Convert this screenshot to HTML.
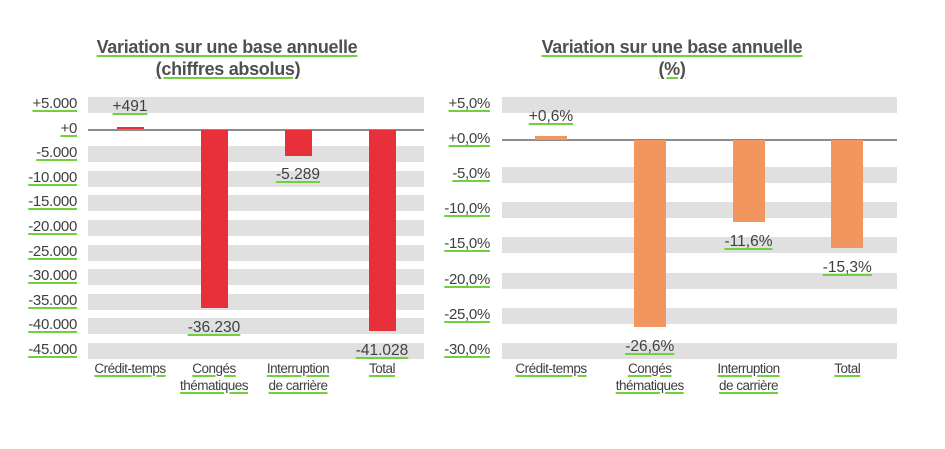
<!DOCTYPE html>
<html><head><meta charset="utf-8"><style>
body{margin:0;background:#fff;width:945px;height:449px;overflow:hidden;position:relative;font-family:"Liberation Sans",sans-serif;color:#404040}
.a{position:absolute;white-space:nowrap;text-decoration:underline #6fd13f;text-decoration-color:#6fd13f;text-underline-offset:2px;text-decoration-thickness:2px}
.t{font-weight:bold;font-size:18px;color:#505050;text-align:center;width:400px;line-height:22px;letter-spacing:-0.3px}
.n{font-size:15px;line-height:16px;letter-spacing:-0.3px}
.r{position:absolute}
</style></head><body>
<div class="a t" style="left:27px;top:36px">Variation sur une base annuelle</div>
<div class="a t" style="left:28px;top:58px">(chiffres absolus)</div>
<div class="a t" style="left:472px;top:36px">Variation sur une base annuelle</div>
<div class="a t" style="left:472px;top:58px">(%)</div>
<div id="c"></div>
<script>
var h='';
function el(s){h+=s;}
var L={zero:129.5,k:24.6/5000};
var ticksL=['+5.000','+0','-5.000','-10.000','-15.000','-20.000','-25.000','-30.000','-35.000','-40.000','-45.000'];
for(var i=0;i<11;i++){var v=5000-5000*i;var y=L.zero-v*L.k;
 if(v!=0) el('<div class="r" style="left:88px;top:'+(y-8)+'px;width:336px;height:16px;background:#e0e0e0"></div>');
 el('<div class="a n" style="right:'+(945-77)+'px;top:'+(y-9)+'px">'+ticksL[i]+'</div>');}
el('<div class="r" style="left:88px;top:'+(L.zero-1)+'px;width:336px;height:2px;background:#8c8c8c"></div>');
var dl=[491,-36230,-5289,-41028],lbl=['+491','-36.230','-5.289','-41.028'],ly=[107,328,175,351];
var cats=['Crédit-temps','Congés<br>thématiques','Interruption<br>de carrière','Total'];
for(var i=0;i<4;i++){var c=130+84*i;var y1=L.zero,y2=L.zero-dl[i]*L.k;var t=Math.min(y1,y2),b=Math.max(y1,y2);
 el('<div class="r" style="left:'+(c-13.5)+'px;top:'+t+'px;width:27px;height:'+Math.max(b-t,2)+'px;background:#e8303a"></div>');
 el('<div class="a" style="font-size:15.5px;left:'+(c-50)+'px;width:100px;text-align:center;top:'+(ly[i]-9)+'px">'+lbl[i]+'</div>');
 el('<div class="a" style="font-size:13.5px;line-height:17px;left:'+(c-50)+'px;width:100px;text-align:center;top:360px;letter-spacing:-0.5px">'+cats[i]+'</div>');}
var R={zero:140,k:35.15/5};
for(var i=0;i<8;i++){var v=5-5*i;var y=R.zero-v*R.k;
 if(v!=0) el('<div class="r" style="left:502px;top:'+(y-8)+'px;width:395px;height:16px;background:#e0e0e0"></div>');
 var s=(v>=0?'+':'')+v+',0%';
 el('<div class="a n" style="right:'+(945-490)+'px;top:'+(y-9)+'px">'+s+'</div>');}
el('<div class="r" style="left:502px;top:'+(R.zero-1)+'px;width:395px;height:2px;background:#8c8c8c"></div>');
var dr=[0.6,-26.6,-11.6,-15.3],lr=['+0,6%','-26,6%','-11,6%','-15,3%'],ry=[117,347,242,268];
for(var i=0;i<4;i++){var c=551+98.75*i;var y1=R.zero,y2=R.zero-dr[i]*R.k;var t=Math.min(y1,y2),b=Math.max(y1,y2);
 el('<div class="r" style="left:'+(c-16)+'px;top:'+t+'px;width:32px;height:'+Math.max(b-t,2)+'px;background:#f0965e"></div>');
 el('<div class="a" style="font-size:15.5px;left:'+(c-50)+'px;width:100px;text-align:center;top:'+(ry[i]-9)+'px">'+lr[i]+'</div>');
 el('<div class="a" style="font-size:13.5px;line-height:17px;left:'+(c-50)+'px;width:100px;text-align:center;top:360px;letter-spacing:-0.5px">'+cats[i]+'</div>');}
document.getElementById('c').innerHTML=h;
</script>
</body></html>
